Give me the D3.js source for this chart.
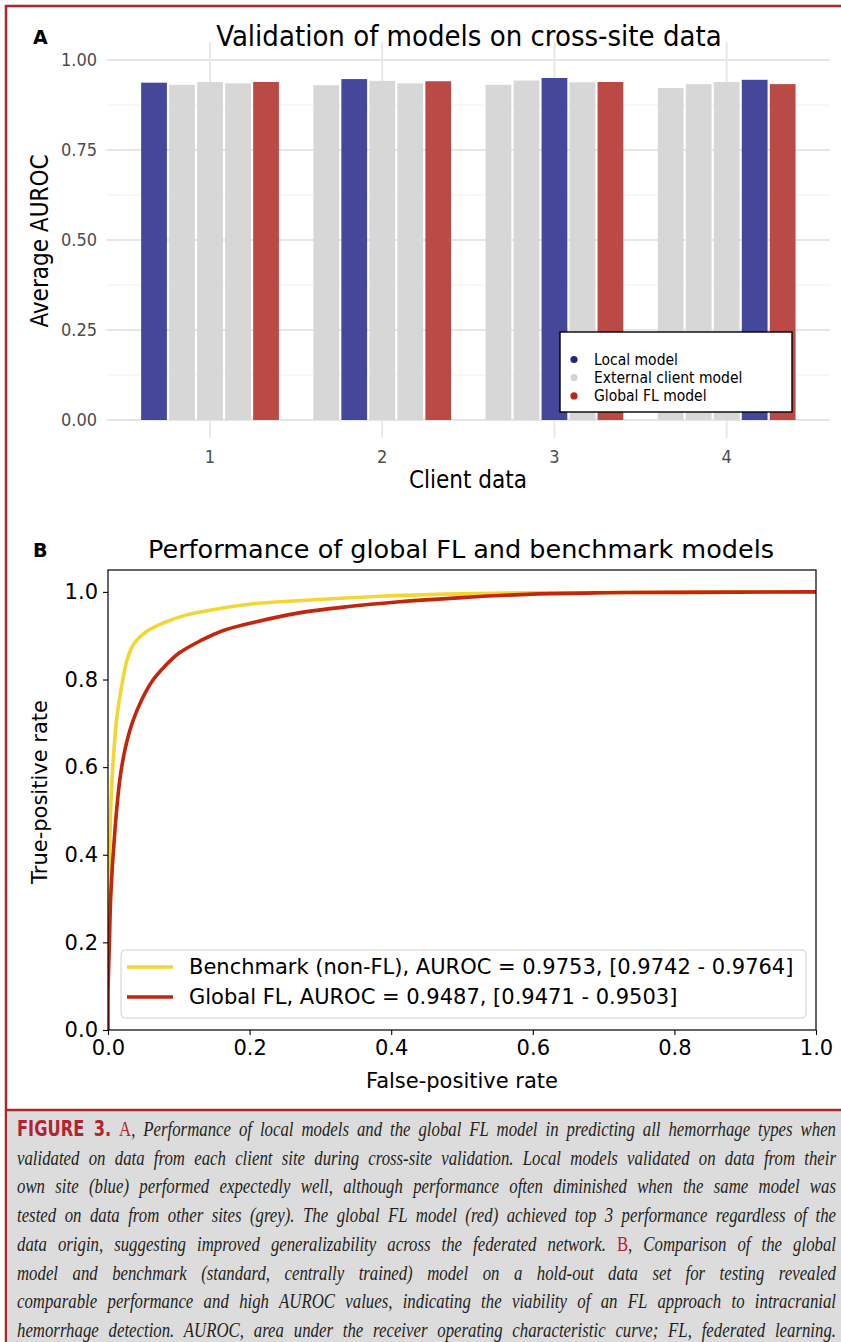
<!DOCTYPE html>
<html>
<head>
<meta charset="utf-8">
<script src="https://cdn.jsdelivr.net/npm/d3@7"></script>
<style>
body { margin: 0; background: #fff; }
svg { display: block; }
</style>
</head>
<body>
<svg width="841" height="1342"></svg>
<script>
// ---- panel A: cross-site validation ----
var clients = ["1", "2", "3", "4"];
var client1Auroc = [0.937, 0.931, 0.939, 0.935, 0.939];
var client2Auroc = [0.930, 0.947, 0.942, 0.935, 0.941];
var client3Auroc = [0.931, 0.943, 0.950, 0.938, 0.939];
var client4Auroc = [0.922, 0.933, 0.939, 0.945, 0.933];
var client1Role = ["local", "external", "external", "external", "global"];
var client2Role = ["external", "local", "external", "external", "global"];
var client3Role = ["external", "external", "local", "external", "global"];
var client4Role = ["external", "external", "external", "local", "global"];
var roles = ["local", "external", "global"];
var roleLabels = ["Local model", "External client model", "Global FL model"];
var aTicks = [0, 0.25, 0.5, 0.75, 1];
var aMinor = [0.125, 0.375, 0.625, 0.875];

// ---- panel B: ROC curves ----
var benchFpr = [0, 0, 0.002, 0.005, 0.008, 0.013, 0.021, 0.027, 0.036, 0.055, 0.078, 0.11, 0.15, 0.205, 0.29, 0.384, 0.478, 0.6, 0.8, 1];
var benchTpr = [0, 0.2, 0.4, 0.55, 0.63, 0.72, 0.8, 0.845, 0.88, 0.91, 0.929, 0.947, 0.96, 0.973, 0.982, 0.99, 0.995, 0.998, 0.999, 1];
var flFpr = [0, 0, 0.002, 0.004, 0.01, 0.017, 0.024, 0.034, 0.048, 0.064, 0.08, 0.1, 0.13, 0.163, 0.21, 0.266, 0.337, 0.408, 0.5, 0.6, 0.7, 0.8, 1];
var flTpr = [0, 0.08, 0.2, 0.31, 0.46, 0.575, 0.64, 0.7, 0.755, 0.8, 0.83, 0.86, 0.888, 0.912, 0.932, 0.951, 0.966, 0.977, 0.987, 0.995, 0.998, 0.999, 1];
var rocLabels = ["Benchmark (non-FL), AUROC = 0.9753, [0.9742 - 0.9764]",
                 "Global FL, AUROC = 0.9487, [0.9471 - 0.9503]"];
var bTicks = [0, 0.2, 0.4, 0.6, 0.8, 1];

var captionLines = [
  "FIGURE 3. A, Performance of local models and the global FL model in predicting all hemorrhage types when",
  "validated on data from each client site during cross-site validation. Local models validated on data from their",
  "own site (blue) performed expectedly well, although performance often diminished when the same model was",
  "tested on data from other sites (grey). The global FL model (red) achieved top 3 performance regardless of the",
  "data origin, suggesting improved generalizability across the federated network. B, Comparison of the global",
  "model and benchmark (standard, centrally trained) model on a hold-out data set for testing revealed",
  "comparable performance and high AUROC values, indicating the viability of an FL approach to intracranial",
  "hemorrhage detection. AUROC, area under the receiver operating characteristic curve; FL, federated learning."
];

var accent = "#b3232f";
var svg = d3.select("svg");
var fontA = "'DejaVu Sans Condensed', 'DejaVu Sans', sans-serif";
var fontB = "'DejaVu Sans', sans-serif";

// outer frame
svg.append("line").attr("x1", 6).attr("x2", 6).attr("y1", 5).attr("y2", 1342)
  .attr("stroke", accent).attr("stroke-width", 2.5);
svg.append("line").attr("x1", 5).attr("x2", 841).attr("y1", 6).attr("y2", 6)
  .attr("stroke", accent).attr("stroke-width", 2.5);

// ================= panel A =================
var bars = [];
[client1Auroc, client2Auroc, client3Auroc, client4Auroc].forEach(function(vals, ci) {
  var rl = [client1Role, client2Role, client3Role, client4Role][ci];
  vals.forEach(function(v, j) {
    bars.push({client: clients[ci], slot: j, value: v, role: rl[j]});
  });
});

var xA = d3.scaleBand().domain(clients).range([106.7, 830]).paddingInner(0.2).paddingOuter(0.2);
var xInner = d3.scaleBand().domain(d3.range(5)).range([0, xA.bandwidth()]).paddingInner(0.08);
var yA = d3.scaleLinear().domain([-0.05, 1.05]).range([438, 42]);
var barColor = d3.scaleOrdinal().domain(roles).range(["#45479a", "#d7d7d7", "#bb4945"]);
var dotColor = d3.scaleOrdinal().domain(roles).range(["#1b2a80", "#d4d4d4", "#b7291a"]);

var gA = svg.append("g");
var left = xA.range()[0], right = xA.range()[1];

gA.selectAll(".minor").data(aMinor).enter().append("line")
  .attr("x1", left).attr("x2", right)
  .attr("y1", function(d) { return yA(d); }).attr("y2", function(d) { return yA(d); })
  .attr("stroke", "#f0f0f0").attr("stroke-width", 1);
gA.selectAll(".major").data(aTicks).enter().append("line")
  .attr("x1", left).attr("x2", right)
  .attr("y1", function(d) { return yA(d); }).attr("y2", function(d) { return yA(d); })
  .attr("stroke", "#e6e6e6").attr("stroke-width", 1.8);
gA.selectAll(".vgrid").data(clients).enter().append("line")
  .attr("x1", function(d) { return xA(d) + xA.bandwidth() / 2; })
  .attr("x2", function(d) { return xA(d) + xA.bandwidth() / 2; })
  .attr("y1", yA.range()[1]).attr("y2", yA.range()[0])
  .attr("stroke", "#e6e6e6").attr("stroke-width", 1.8);

gA.selectAll("rect.bar").data(bars).enter().append("rect")
  .attr("class", "bar")
  .attr("x", function(d) { return xA(d.client) + xInner(d.slot); })
  .attr("width", xInner.bandwidth())
  .attr("y", function(d) { return yA(d.value); })
  .attr("height", function(d) { return yA(0) - yA(d.value); })
  .attr("fill", function(d) { return barColor(d.role); });

// axes text
gA.selectAll(".ytl").data(aTicks).enter().append("text")
  .attr("x", 97).attr("y", function(d) { return yA(d); })
  .attr("dy", "0.35em").attr("text-anchor", "end")
  .attr("font-family", fontA).attr("font-size", 18).attr("fill", "#4d4d4d")
  .text(function(d) { return d3.format(".2f")(d); });
gA.selectAll(".xtl").data(clients).enter().append("text")
  .attr("x", function(d) { return xA(d) + xA.bandwidth() / 2; }).attr("y", 457)
  .attr("dy", "0.35em").attr("text-anchor", "middle")
  .attr("font-family", fontA).attr("font-size", 18).attr("fill", "#4d4d4d")
  .text(function(d) { return d; });

gA.append("text").attr("x", 468).attr("y", 480).attr("dy", "0.35em")
  .attr("text-anchor", "middle").attr("font-family", fontA).attr("font-size", 24)
  .text("Client data");
gA.append("text").attr("transform", "translate(40,241) rotate(-90)").attr("dy", "0.35em")
  .attr("text-anchor", "middle").attr("font-family", fontA).attr("font-size", 24)
  .text("Average AUROC");
gA.append("text").attr("x", 469).attr("y", 36).attr("dy", "0.35em")
  .attr("text-anchor", "middle").attr("font-family", fontA).attr("font-size", 29)
  .text("Validation of models on cross-site data");
gA.append("text").attr("x", 33).attr("y", 37).attr("dy", "0.35em")
  .attr("font-family", fontB).attr("font-weight", "bold").attr("font-size", 19)
  .text("A");

// legend A
var legA = gA.append("g").attr("transform", "translate(560,332)");
legA.append("rect").attr("width", 232).attr("height", 80)
  .attr("fill", "#fff").attr("stroke", "#000").attr("stroke-width", 1.4);
legA.selectAll("circle").data(roles).enter().append("circle")
  .attr("cx", 14).attr("cy", function(d, i) { return 27.5 + i * 18.2; }).attr("r", 3.6)
  .attr("fill", function(d) { return dotColor(d); });
legA.append("text").attr("font-family", fontA).attr("font-size", 15.5)
  .selectAll("tspan").data(roleLabels).enter().append("tspan")
  .attr("x", 34).attr("y", function(d, i) { return 27.5 + i * 18.2; }).attr("dy", "0.35em")
  .text(function(d) { return d; });

// ================= panel B =================
var xB = d3.scaleLinear().domain([0, 1]).range([108, 816]);
var yB = d3.scaleLinear().domain([0, 1.05]).range([1030, 570]);
var gB = svg.append("g");

svg.append("clipPath").attr("id", "plotB").append("rect")
  .attr("x", 108).attr("y", 570).attr("width", 708).attr("height", 460);

var line = d3.line().x(function(d) { return xB(d[0]); }).y(function(d) { return yB(d[1]); })
  .curve(d3.curveCatmullRom.alpha(0.5));
var benchPts = d3.zip(benchFpr, benchTpr);
var flPts = d3.zip(flFpr, flTpr);
var rocColors = ["#f3d631", "#c2260c"];

gB.append("g").attr("clip-path", "url(#plotB)").selectAll("path")
  .data([benchPts, flPts]).enter().append("path")
  .attr("d", line).attr("fill", "none")
  .attr("stroke", function(d, i) { return rocColors[i]; })
  .attr("stroke-width", 3.6).attr("stroke-linejoin", "round");

gB.append("g").attr("transform", "translate(0,1030)")
  .call(d3.axisBottom(xB).tickValues(bTicks).tickFormat(d3.format(".1f")).tickSizeOuter(0).tickSize(5).tickPadding(5))
  .call(function(g) {
    g.select(".domain").remove();
    g.selectAll("text").attr("font-family", fontB).attr("font-size", 21).attr("fill", "#000");
    g.selectAll("line").attr("stroke-width", 1.1);
  });
gB.append("g").attr("transform", "translate(108,0)")
  .call(d3.axisLeft(yB).tickValues(bTicks).tickFormat(d3.format(".1f")).tickSizeOuter(0).tickSize(5).tickPadding(5))
  .call(function(g) {
    g.select(".domain").remove();
    g.selectAll("text").attr("font-family", fontB).attr("font-size", 21).attr("fill", "#000");
    g.selectAll("line").attr("stroke-width", 1.1);
  });
gB.append("rect").attr("x", 108).attr("y", 570).attr("width", 708).attr("height", 460)
  .attr("fill", "none").attr("stroke", "#000").attr("stroke-width", 1.2);

gB.append("text").attr("x", 462).attr("y", 1081).attr("dy", "0.35em")
  .attr("text-anchor", "middle").attr("font-family", fontB).attr("font-size", 21)
  .text("False-positive rate");
gB.append("text").attr("transform", "translate(40,792) rotate(-90)").attr("dy", "0.35em")
  .attr("text-anchor", "middle").attr("font-family", fontB).attr("font-size", 21)
  .text("True-positive rate");
gB.append("text").attr("x", 461).attr("y", 549).attr("dy", "0.35em")
  .attr("text-anchor", "middle").attr("font-family", fontB).attr("font-size", 25.5)
  .text("Performance of global FL and benchmark models");
gB.append("text").attr("x", 33).attr("y", 550).attr("dy", "0.35em")
  .attr("font-family", fontB).attr("font-weight", "bold").attr("font-size", 19)
  .text("B");

var legB = gB.append("g").attr("transform", "translate(121,950)");
legB.append("rect").attr("width", 685).attr("height", 68).attr("rx", 4)
  .attr("fill", "#fff").attr("fill-opacity", 0.8).attr("stroke", "#d0d0d0");
rocLabels.forEach(function(lab, i) {
  legB.append("line").attr("x1", 6).attr("x2", 52)
    .attr("y1", 17 + i * 30).attr("y2", 17 + i * 30)
    .attr("stroke", rocColors[i]).attr("stroke-width", 3.6);
  legB.append("text").attr("x", 68).attr("y", 17 + i * 30).attr("dy", "0.35em")
    .attr("font-family", fontB).attr("font-size", 21).text(lab);
});

// ================= caption =================
svg.append("rect").attr("x", 7).attr("y", 1111).attr("width", 834).attr("height", 231)
  .attr("fill", "#dddcdc");
svg.append("line").attr("x1", 5).attr("x2", 841).attr("y1", 1110).attr("y2", 1110)
  .attr("stroke", accent).attr("stroke-width", 2.5);

// condensed look: squeeze each line horizontally, then justify with word spacing
var capX0 = 17, capX1 = 836, squeeze = 0.84;
captionLines.forEach(function(str, i) {
  var t = svg.append("text")
    .attr("transform", "translate(" + capX0 + "," + (1136 + i * 28.7) + ") scale(" + squeeze + ",1)")
    .attr("font-family", "'Liberation Serif', 'DejaVu Serif', serif")
    .attr("font-size", 20).attr("fill", "#231f20");
  str.split(/(FIGURE 3\.|\b[AB](?=,))/).forEach(function(part) {
    if (!part) return;
    var s = t.append("tspan").text(part);
    if (part === "FIGURE 3.") {
      s.attr("font-family", "'Liberation Sans Narrow', 'DejaVu Sans Condensed', sans-serif")
        .attr("font-weight", "bold").attr("font-size", 21.5).attr("fill", accent);
    } else if (part === "A" || part === "B") {
      s.attr("fill", accent);
    } else {
      s.attr("font-style", "italic");
    }
  });
  var natural = t.node().getComputedTextLength();
  var spaces = str.split(" ").length - 1;
  t.attr("word-spacing", ((capX1 - capX0) / squeeze - natural) / spaces);
});
</script>
</body>
</html>
